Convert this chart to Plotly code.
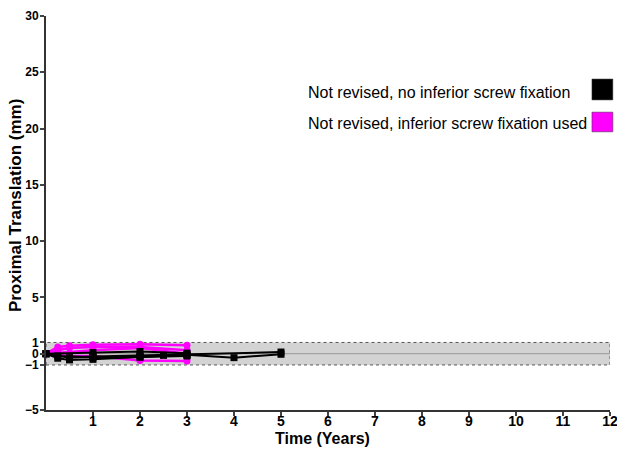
import plotly.graph_objects as go

# Individual patient trajectories (time in years, proximal translation in mm)
black_times = [
    [0, 0.25, 0.5, 1, 2, 3, 4, 5],
    [0, 0.5, 1, 2, 2.5, 3, 5],
    [0, 1, 2, 3],
    [0, 0.25, 1, 2, 3],
]
black_values = [
    [0, -0.4, -0.55, -0.5, -0.3, -0.1, -0.35, -0.05],
    [0, -0.35, -0.25, -0.15, -0.15, -0.1, 0.15],
    [0, 0.1, 0.2, 0.05],
    [0, -0.2, -0.3, -0.3, -0.2],
]
pink_times = [
    [0, 0.25, 0.5, 1, 2, 3],
    [0, 0.25, 0.5, 1, 2, 3],
    [0, 0.5, 1, 2, 3],
    [0, 1, 2, 3],
]
pink_values = [
    [0, 0.6, 0.7, 0.8, 0.85, 0.75],
    [0, 0.3, 0.5, 0.6, 0.6, 0.3],
    [0, -0.2, -0.2, -0.6, -0.65],
    [0, 0.3, 0.5, 0.0],
]
legend_labels = ["Not revised, no inferior screw fixation",
                 "Not revised, inferior screw fixation used"]
legend_colors = ["#000000", "#ff00ff"]
x_ticks = list(range(1, 13))
y_ticks = [-5, -1, 0, 1, 5, 10, 15, 20, 25, 30]
x_title = "Time (Years)"
y_title = "Proximal Translation (mm)"

fig = go.Figure()

fig.add_shape(type="rect", x0=0, x1=12, y0=-1, y1=1, xref="x", yref="y",
              fillcolor="#d3d3d3", line=dict(color="#555555", width=1, dash="dot"), layer="below")
fig.add_shape(type="line", x0=0, x1=12, y0=0, y1=0, xref="x", yref="y",
              line=dict(color="#999999", width=1), layer="below")

for t, v in zip(pink_times, pink_values):
    fig.add_trace(go.Scatter(x=t, y=v, mode="lines+markers", showlegend=False, cliponaxis=False,
                             line=dict(color="#ff00ff", width=2.5),
                             marker=dict(symbol="circle", size=7, color="#ff00ff")))
for t, v in zip(black_times, black_values):
    fig.add_trace(go.Scatter(x=t, y=v, mode="lines+markers", showlegend=False, cliponaxis=False,
                             line=dict(color="#000000", width=2),
                             marker=dict(symbol="square", size=7, color="#000000")))

# legend built manually (swatches on the right of the text)
leg_y = [0.807, 0.728]
sq_y = [(0.787, 0.840), (0.706, 0.756)]
for lab, col, yy, (s0, s1) in zip(legend_labels, legend_colors, leg_y, sq_y):
    fig.add_annotation(text=lab, xref="paper", yref="paper", x=0.461, y=yy,
                       xanchor="left", yanchor="middle", showarrow=False,
                       font=dict(family="Liberation Sans, Arial", size=16, color="#000"))
    fig.add_shape(type="rect", xref="paper", yref="paper",
                  x0=0.968, x1=1.005, y0=s0, y1=s1,
                  fillcolor=col, line=dict(color="#333", width=0.5))

# axis titles
fig.add_annotation(text="<b>" + x_title + "</b>", xref="paper", yref="paper", x=0.49, y=-0.073,
                   xanchor="center", yanchor="middle", showarrow=False,
                   font=dict(family="Liberation Sans, Arial", size=16, color="#000"))
fig.add_annotation(text="<b>" + y_title + "</b>", xref="paper", yref="paper", x=-0.055, y=0.52,
                   xanchor="center", yanchor="middle", showarrow=False, textangle=-90,
                   font=dict(family="Liberation Sans, Arial", size=17, color="#000"))

fig.update_layout(
    width=617, height=450,
    margin=dict(l=46, r=7, t=16, b=40),
    paper_bgcolor="white", plot_bgcolor="white",
    font=dict(family="Liberation Sans, Arial", color="#000"),
    xaxis=dict(range=[0, 12], tickvals=x_ticks, ticks="outside", ticklen=4, tickwidth=1.5,
               showline=True, linecolor="#333", linewidth=2, showgrid=False, zeroline=False,
               automargin=False, ticklabeloverflow="allow", ticklabelstandoff=-7,
               tickfont=dict(size=14, weight="bold")),
    yaxis=dict(range=[-5, 30], tickvals=y_ticks, ticks="outside", ticklen=4, tickwidth=1.5,
               showline=True, linecolor="#333", linewidth=2, showgrid=False, zeroline=False,
               automargin=False, ticklabeloverflow="allow", ticklabelstandoff=-1,
               tickfont=dict(size=12, weight="bold")),
)

fig.write_html("out.html")
